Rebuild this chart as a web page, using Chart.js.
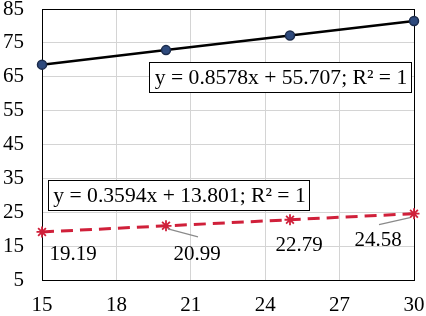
<!DOCTYPE html>
<html>
<head>
<meta charset="utf-8">
<script src="https://cdn.jsdelivr.net/npm/chart.js@4.4.1/dist/chart.umd.min.js"></script>
<style>
  html, body { margin: 0; padding: 0; background: #fff; }
  #wrap { width: 426px; height: 316px; }
</style>
</head>
<body>
<div id="wrap"><canvas id="c" width="426" height="316"></canvas></div>
<script>
const xValues = [15, 20, 25, 30];
const upperSeries = [68.574, 72.863, 77.152, 81.441];
const lowerSeries = [19.19, 20.99, 22.79, 24.58];
const upperEquation = 'y = 0.8578x + 55.707; R² = 1';
const lowerEquation = 'y = 0.3594x + 13.801; R² = 1';
const xTicks = [15, 18, 21, 24, 27, 30];
const yTicks = [5, 15, 25, 35, 45, 55, 65, 75, 85];

const FONT = "'Liberation Serif', 'Times New Roman', serif";
const RED = '#D0203A';

const overlay = {
  id: 'overlay',
  beforeDatasetsDraw(chart) {
    const { ctx, chartArea: a } = chart;
    ctx.save();
    ctx.strokeStyle = '#000';
    ctx.lineWidth = 1;
    ctx.strokeRect(Math.round(a.left) + 0.5, Math.round(a.top) + 0.5,
                   Math.round(a.right - a.left), Math.round(a.bottom - a.top));
    ctx.restore();
  },
  afterDatasetsDraw(chart) {
    const { ctx, scales } = chart;
    const xs = scales.x, ys = scales.y;
    ctx.save();
    const offs = [[31, 23], [31, 29], [9, 26], [-36, 27]];
    const leaders = [null, [[2, 3], [32, 11]], null, [[-35, 11], [-4, 4]]];
    ctx.font = '21px ' + FONT;
    ctx.textAlign = 'center';
    ctx.textBaseline = 'middle';
    lowerSeries.forEach((v, i) => {
      const px = xs.getPixelForValue(xValues[i]);
      const py = ys.getPixelForValue(v);
      const L = leaders[i];
      if (L) {
        ctx.strokeStyle = '#8a8a8a';
        ctx.lineWidth = 1.2;
        ctx.beginPath();
        ctx.moveTo(px + L[0][0], py + L[0][1]);
        ctx.lineTo(px + L[1][0], py + L[1][1]);
        ctx.stroke();
      }
      ctx.fillStyle = '#000';
      ctx.fillText(v.toFixed(2), px + offs[i][0], py + offs[i][1]);
    });
    const boxes = [
      { t: upperEquation, x: 149, y: 62, w: 262, h: 30 },
      { t: lowerEquation, x: 48, y: 180, w: 261, h: 30 }
    ];
    boxes.forEach(b => {
      ctx.fillStyle = '#fff';
      ctx.fillRect(b.x, b.y, b.w, b.h);
      ctx.strokeStyle = '#000';
      ctx.lineWidth = 1;
      ctx.strokeRect(b.x + 0.5, b.y + 0.5, b.w, b.h);
      ctx.fillStyle = '#000';
      ctx.font = '21.6px ' + FONT;
      ctx.textAlign = 'center';
      ctx.textBaseline = 'middle';
      ctx.fillText(b.t, b.x + b.w / 2 + 1, b.y + b.h / 2 + 1);
    });
    ctx.restore();
  }
};

function zeroPad(s) { s.paddingLeft = 0; s.paddingRight = 0; s.paddingTop = 0; s.paddingBottom = 0; }

new Chart(document.getElementById('c'), {
  type: 'scatter',
  data: {
    datasets: [
      {
        data: xValues.map((x, i) => ({ x, y: upperSeries[i] })),
        showLine: true,
        borderColor: '#000',
        borderWidth: 2.5,
        pointRadius: 4.5,
        pointBackgroundColor: '#2E4A7D',
        pointBorderColor: '#1B2B4B',
        pointBorderWidth: 1.5,
        order: 1
      },
      {
        data: xValues.map((x, i) => ({ x, y: lowerSeries[i] })),
        showLine: true,
        borderColor: RED,
        borderWidth: 3,
        borderDash: [12, 7],
        pointStyle: 'star',
        pointRadius: 5.5,
        pointBorderColor: RED,
        pointBackgroundColor: RED,
        pointBorderWidth: 1.8,
        order: 2
      }
    ]
  },
  options: {
    responsive: false,
    animation: false,
    clip: false,
    layout: { padding: { left: 0, right: 12, top: 9, bottom: 0 } },
    plugins: { legend: { display: false }, tooltip: { enabled: false } },
    scales: {
      x: {
        type: 'linear',
        min: 15, max: 30,
        afterBuildTicks: s => { s.ticks = xTicks.map(v => ({ value: v })); },
        afterFit: s => { s.height = 36; zeroPad(s); },
        grid: { color: '#d4d4d4', lineWidth: 1, drawTicks: false },
        border: { display: false },
        ticks: { color: '#000', font: { family: FONT, size: 21 }, padding: 13, maxRotation: 0, autoSkip: false }
      },
      y: {
        type: 'linear',
        min: 5, max: 85,
        afterBuildTicks: s => { s.ticks = yTicks.map(v => ({ value: v })); },
        afterFit: s => { s.width = 42; zeroPad(s); },
        grid: { color: '#d4d4d4', lineWidth: 1, drawTicks: false },
        border: { display: false },
        ticks: { color: '#000', font: { family: FONT, size: 21 }, padding: 18, autoSkip: false }
      }
    }
  },
  plugins: [overlay]
});
</script>
</body>
</html>
